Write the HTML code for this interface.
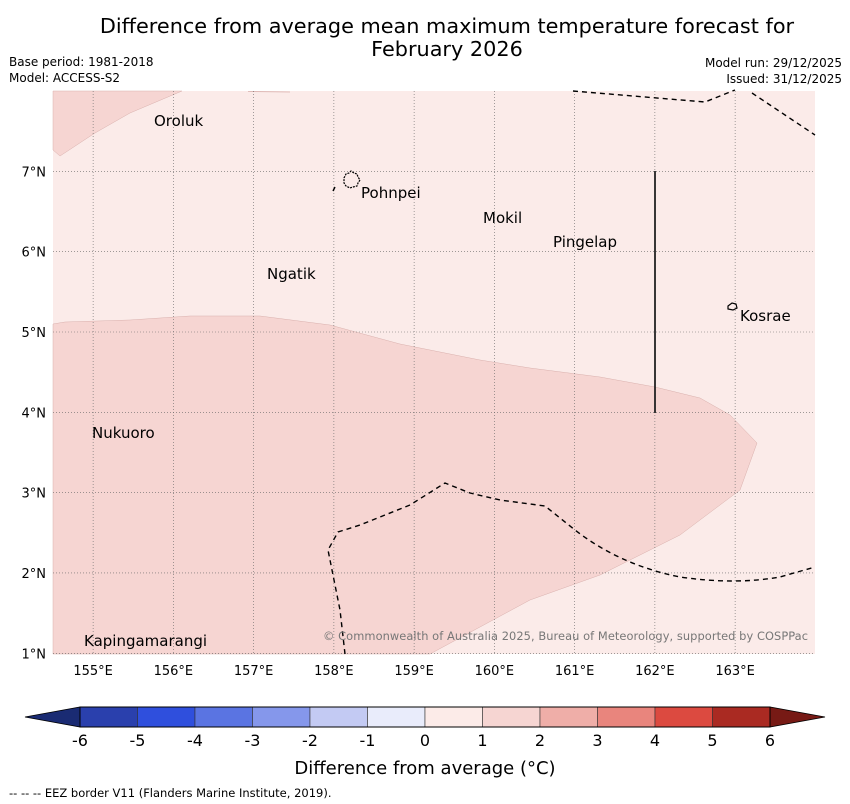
<!DOCTYPE html>
<html><head><meta charset="utf-8"><style>
body{margin:0;background:#fff;font-family:"DejaVu Sans","Liberation Sans",sans-serif}
svg{display:block}
</style></head><body>
<svg id="c" width="850" height="804" xmlns="http://www.w3.org/2000/svg">
<g font-family="DejaVu Sans, Liberation Sans, sans-serif">
<text x="447" y="33" font-size="20.8" text-anchor="middle">Difference from average mean maximum temperature forecast for</text>
<text x="447" y="56" font-size="20.8" text-anchor="middle">February 2026</text>
<text x="9" y="66" font-size="12">Base period: 1981-2018</text>
<text x="9" y="82" font-size="12">Model: ACCESS-S2</text>
<text x="842" y="67" font-size="12" text-anchor="end">Model run: 29/12/2025</text>
<text x="842" y="83" font-size="12" text-anchor="end">Issued: 31/12/2025</text>
</g>
<g id="map">
<rect x="53" y="91" width="762" height="563" fill="#fbebe9"/>
<polygon fill="#f6d5d2" stroke="#d9b0ad" stroke-width="0.5" points="53,324 65,322 130,320 190,316 260,316 330,325 400,344 480,360 530,368 600,377 655,387 700,398 730,415 757,443 740,490 680,535 600,575 530,600 480,627 430,654 53,654"/>
<polygon fill="#f6d5d2" stroke="#d9b0ad" stroke-width="0.5" points="53,91 182,91 130,113 95,133 60,156 53,150"/>
<line x1="248" y1="91.5" x2="290" y2="92" stroke="#d9b0ad" stroke-width="0.8"/>
<g id="grid" stroke="#666" stroke-width="0.6" stroke-dasharray="1,2"></g>
<g fill="none" stroke="#000" stroke-width="1.4" stroke-dasharray="5,4">
<polyline points="573,91 705,102 735,90"/>
<polyline points="752,93 785,115 815,135"/>
<path d="M345,654 L340,610 L328,550 L338,532 L360,525 L410,505 L445,483 L470,493 L500,500 L545,506 L575,530 Q620,565 680,577 Q735,585 780,577 L815,567"/>
<line x1="333" y1="191" x2="335" y2="187"/>
</g>
<line x1="655" y1="171" x2="655" y2="413" stroke="#222" stroke-width="1.8"/>
<path d="M344,178 l2,-4 3,-1 2,-2 3,2 3,1 1,3 2,3 -2,3 -1,3 -4,1 -3,1 -4,-2 -2,-3z" fill="none" stroke="#000" stroke-width="1.2" stroke-dasharray="2,1"/>
<path d="M728,306 l4,-3 4,1 1,4 -4,2 -5,-1z" fill="none" stroke="#000" stroke-width="1.2"/>
<g font-size="15" fill="#000" font-family="DejaVu Sans, Liberation Sans, sans-serif">
<text x="154" y="126">Oroluk</text>
<text x="361" y="198">Pohnpei</text>
<text x="483" y="223">Mokil</text>
<text x="553" y="247">Pingelap</text>
<text x="267" y="279">Ngatik</text>
<text x="740" y="321">Kosrae</text>
<text x="92" y="438">Nukuoro</text>
<text x="84" y="646">Kapingamarangi</text>
</g>
<text x="808" y="640" font-size="11.4" fill="#777" text-anchor="end" font-family="DejaVu Sans, Liberation Sans, sans-serif" textLength="485">© Commonwealth of Australia 2025, Bureau of Meteorology, supported by COSPPac</text>
</g>
<g id="axes" font-size="13" font-family="DejaVu Sans, Liberation Sans, sans-serif"></g>
<g id="cbar"></g>
<text x="425" y="774" font-size="18" text-anchor="middle" font-family="DejaVu Sans, Liberation Sans, sans-serif">Difference from average (°C)</text>
<text x="9" y="797" font-size="11.5" font-family="DejaVu Sans, Liberation Sans, sans-serif">--  --  -- EEZ border V11 (Flanders Marine Institute, 2019).</text>
</svg>
<script>
const lonTicks=[155,156,157,158,159,160,161,162,163];
const latTicks=[1,2,3,4,5,6,7];
const binEdges=[-6,-5,-4,-3,-2,-1,0,1,2,3,4,5,6];
const binColors=["#2a40ad","#2f4fdd","#5a74e2","#8597eb","#c3caf3","#e9ecfb","#fcebe8","#f6d5d2","#efaea8","#e9857d","#dc4a40","#aa2a22"];
const extendColors=["#1a2b73","#771a15"];
const NS="http://www.w3.org/2000/svg";
const X=lon=>53+(lon-154.5)*80.25;
const Y=lat=>91+(8-lat)*80.33;
const CB=v=>80+(v+6)*57.5;
function mk(t,a,p){const e=document.createElementNS(NS,t);for(const k in a)e.setAttribute(k,a[k]);p.appendChild(e);return e;}
const grid=document.getElementById('grid'),axes=document.getElementById('axes'),cb=document.getElementById('cbar');
lonTicks.forEach(l=>{
 const ln=mk('line',{x1:X(l),x2:X(l),y1:91,y2:654},grid);
 
 
 const t=mk('text',{x:X(l),y:675,'text-anchor':'middle'},axes);t.textContent=l+'°E';
 
 
});
latTicks.forEach(l=>{
 const ln=mk('line',{x1:53,x2:815,y1:Y(l),y2:Y(l)},grid);
 
 
 const t=mk('text',{x:46,y:Y(l)+5,'text-anchor':'end'},axes);t.textContent=l+'°N';
 
 
});
const y0=707,y1=727;
const lo=mk('polygon',{points:`${CB(-6)},${y0} ${CB(-6)},${y1} 25,${(y0+y1)/2}`,fill:extendColors[0],stroke:'#000','stroke-width':0.8},cb);


const hi=mk('polygon',{points:`${CB(6)},${y0} ${CB(6)},${y1} 825,${(y0+y1)/2}`,fill:extendColors[1],stroke:'#000','stroke-width':0.8},cb);


binColors.forEach((c,i)=>{
 const r=mk('rect',{x:CB(binEdges[i]),y:y0,width:CB(binEdges[i+1])-CB(binEdges[i]),height:y1-y0,fill:c,stroke:'#333','stroke-width':0.6},cb);
 
 
});
mk('rect',{x:CB(-6),y:y0,width:CB(6)-CB(-6),height:y1-y0,fill:'none',stroke:'#000','stroke-width':1},cb);
binEdges.forEach(v=>{
 const t=mk('text',{x:CB(v),y:746,'text-anchor':'middle','font-size':16,'font-family':'DejaVu Sans, Liberation Sans, sans-serif'},cb);
 t.textContent=String(v);
 
 
});
</script>
</body></html>
